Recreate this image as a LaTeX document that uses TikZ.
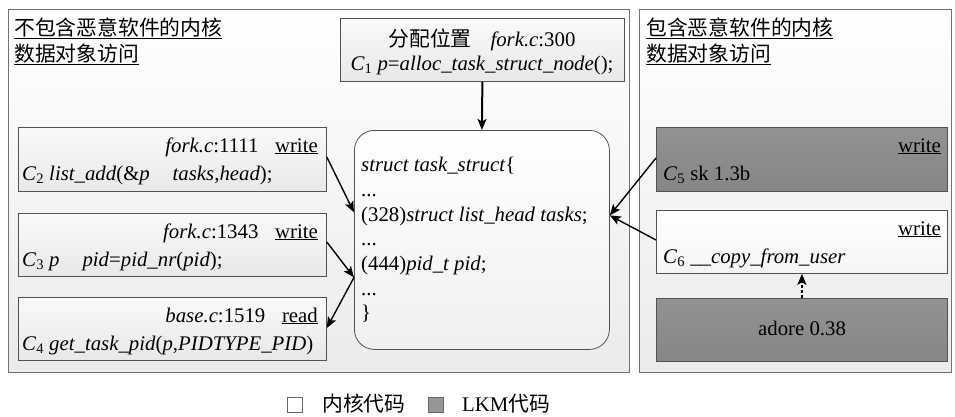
\documentclass[tikz,border=0pt]{standalone}
\usepackage{fontspec}
\setmainfont{Liberation Serif}
\newfontfamily\cjk{Noto Sans CJK SC}
\usetikzlibrary{arrows.meta,calc}

\definecolor{lkmtop}{RGB}{146,146,146}
\definecolor{lkmbot}{RGB}{134,134,134}
\definecolor{legendgray}{RGB}{150,150,150}

\tikzset{
  panel/.style={draw=black!55, line width=1pt, top color=white, bottom color=black!8,
    anchor=north west, inner sep=0pt},
  codebox/.style={draw=black!68, line width=0.8pt, top color=black!2, bottom color=black!9,
    anchor=north west, inner sep=0pt},
  lkmbox/.style={draw=black!68, line width=0.8pt, top color=lkmtop, bottom color=lkmbot,
    anchor=north west, inner sep=0pt},
  structbox/.style={draw=black!68, line width=0.8pt, top color=white, bottom color=black!6,
    rounded corners=20pt, anchor=north west, inner sep=0pt},
  txtl/.style={inner sep=0pt, anchor=base west},
  txtr/.style={inner sep=0pt, anchor=base east},
  txtc/.style={inner sep=0pt, anchor=base},
  link/.style={line width=1.4pt, -{Stealth[length=11pt,width=9pt,inset=2.5pt]}},
  keybox/.style={draw=black!60, line width=0.8pt, minimum size=15pt, inner sep=0pt, anchor=north west},
}

\begin{document}
\begin{tikzpicture}[x=1pt,y=-1pt, font=\fontsize{20.8pt}{24.7pt}\selectfont]
\useasboundingbox (0,0) rectangle (955,416);

% two panels
\node[panel, minimum width=621pt, minimum height=363pt] (left) at (8,9) {};
\node[panel, minimum width=312pt, minimum height=363pt] (right) at (639,9) {};
\node[txtl] (ltitle1) at (14,35) {\cjk\underline{不包含恶意软件的内核}};
\node[txtl] (ltitle2) at (14,61) {\cjk\underline{数据对象访问}};
\node[txtl] (rtitle1) at (646,35) {\cjk\underline{包含恶意软件的内核}};
\node[txtl] (rtitle2) at (646,61) {\cjk\underline{数据对象访问}};

% allocation site
\node[codebox, minimum width=284pt, minimum height=63pt] (c1) at (340,18) {};
\node[txtc] (c1a) at (482,46) {{\cjk 分配位置}\hspace{0.9em}\textit{fork.c}:300};
\node[txtc] (c1b) at (482,70) {\textit{C}\textsubscript{1} \textit{p}=\textit{alloc\_task\_struct\_node}();};

% task_struct
\node[structbox, minimum width=255pt, minimum height=219pt] (ts) at (354,130) {};
\node[inner sep=0pt, anchor=north west, align=left] (tstext) at (361,157)
  {\textit{struct task\_struct}\{\\
   ...\\
   (328)\textit{struct list\_head tasks};\\
   ...\\
   (444)\textit{pid\_t pid};\\
   ...\\
   \}};

% kernel accesses
\node[codebox, minimum width=308pt, minimum height=64pt] (c2) at (18,127) {};
\node[txtr] (c2a) at (318,152) {\textit{fork.c}:1111\hspace{0.8em}\underline{write}};
\node[txtl] (c2b) at (22,180) {\textit{C}\textsubscript{2} \textit{list\_add}(\&\textit{p}\hspace{1.1em}\textit{tasks},\textit{head});};

\node[codebox, minimum width=308pt, minimum height=63pt] (c3) at (18,213) {};
\node[txtr] (c3a) at (318,238) {\textit{fork.c}:1343\hspace{0.8em}\underline{write}};
\node[txtl] (c3b) at (22,266) {\textit{C}\textsubscript{3} \textit{p}\hspace{1.1em}\textit{pid}=\textit{pid\_nr}(\textit{pid});};

\node[codebox, minimum width=308pt, minimum height=63pt] (c4) at (18,297) {};
\node[txtr] (c4a) at (318,322) {\textit{base.c}:1519\hspace{0.8em}\underline{read}};
\node[txtl] (c4b) at (22,350) {\textit{C}\textsubscript{4} \textit{get\_task\_pid}(\textit{p},\textit{PIDTYPE\_PID})};

% malware side
\node[lkmbox, minimum width=291pt, minimum height=64pt] (c5) at (656,127) {};
\node[txtr] (c5a) at (941,152) {\underline{write}};
\node[txtl] (c5b) at (663,180) {\textit{C}\textsubscript{5} sk 1.3b};

\node[codebox, top color=white, bottom color=black!4, minimum width=291pt, minimum height=63pt] (c6) at (656,210) {};
\node[txtr] (c6a) at (941,235) {\underline{write}};
\node[txtl] (c6b) at (663,263) {\textit{C}\textsubscript{6} \textit{\_\_copy\_from\_user}};

\node[lkmbox, minimum width=291pt, minimum height=63pt] (adore) at (656,298) {};
\node[txtc] (adoret) at (802,335) {adore 0.38};

% connectors
\draw[link, line width=2pt] (c1.south) -- (ts.north);
\draw[link] ($(c2.north east)+(0,30)$) -- ($(ts.west)+(0,-27.5)$);
\draw[link] ($(c3.north east)+(0,29)$) -- ($(ts.west)+(0,37.5)$);
\draw[link] ($(ts.west)+(0,37.5)$) -- ($(c4.north east)+(0,31)$);
\draw[link] ($(c5.north west)+(0,31)$) -- ($(ts.east)+(0,-24.5)$);
\draw[link] ($(c6.north west)+(0,30)$) -- ($(ts.east)+(0,-24.5)$);
\draw[link, line width=2.6pt, dash pattern=on 3pt off 2pt] (adore.north) -- (c6.south);

% legend
\node[keybox, fill=white] (k1) at (287,397) {};
\node[txtl] (k1t) at (322,411) {\cjk 内核代码};
\node[keybox, fill=legendgray] (k2) at (428,397) {};
\node[txtl] (k2t) at (462,411) {LKM{\cjk 代码}};
\end{tikzpicture}
\end{document}
